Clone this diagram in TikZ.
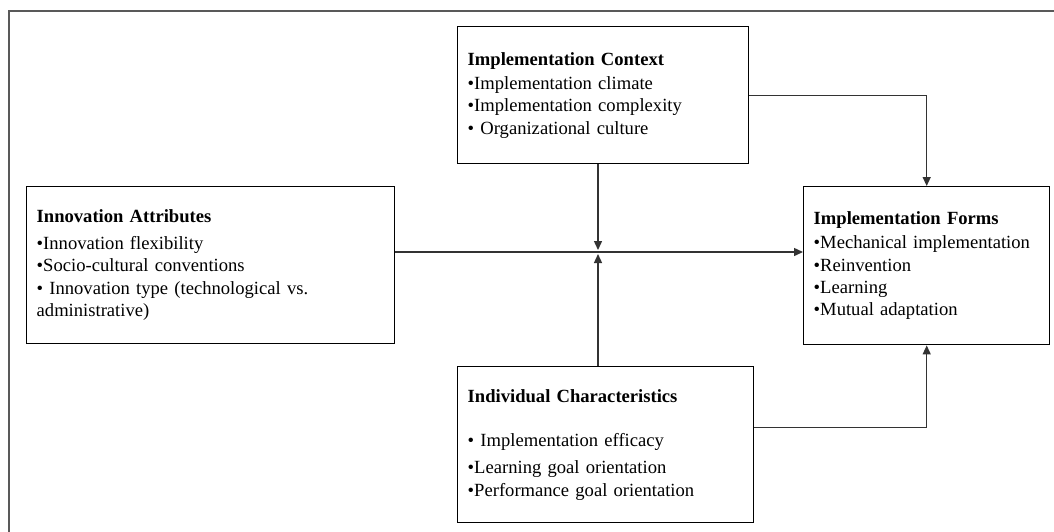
\documentclass[tikz,border=0pt]{standalone}
\usepackage{fontspec}
\setmainfont{Liberation Serif}
\usetikzlibrary{arrows.meta}
\tikzset{
  box/.style={draw, line width=0.7pt, rectangle, anchor=north west, align=left,
    inner xsep=5pt, inner ysep=0pt, font=\fontsize{9.3}{11.2}\selectfont},
  link/.style={line width=0.7pt, draw=black!80, -{Triangle[length=4.5pt,width=4pt]}},
}
\begin{document}
\begin{tikzpicture}[x=0.5pt,y=-0.5pt]
  \useasboundingbox (0,0) rectangle (1054,531);
  \draw[line width=1.1pt, black!65] (1060,11) -- (9,11) -- (9,540);
  % boxes
  \node[box, minimum height=68.5pt, text width=135.5pt] (ctx) at (457,26)
    {\textbf{Implementation Context}\\[1pt]
     •Implementation climate\\
     •Implementation complexity\\
     • Organizational culture};
  \node[box, minimum height=78.5pt, text width=174pt] (ia) at (26,186)
    {\textbf{Innovation Attributes}\\[2pt]
     •Innovation flexibility\\
     •Socio-cultural conventions\\
     • Innovation type (technological vs.\\
     administrative)};
  \node[box, minimum height=79pt, text width=113pt] (forms) at (803,186)
    {\textbf{Implementation Forms}\\[1pt]
     •Mechanical implementation\\
     •Reinvention\\
     •Learning\\
     •Mutual adaptation};
  \node[box, minimum height=78pt, text width=138pt] (ind) at (457,366)
    {\textbf{Individual Characteristics}\\[11pt]
     • Implementation efficacy\\[2.5pt]
     •Learning goal orientation\\
     •Performance goal orientation};
  \coordinate (hub) at (598,252);
  % connectors
  \begin{scope}[link]
    \draw (ia.east |- hub) -- (forms.west |- hub);
    \draw (ctx.south -| hub) -- ([yshift=1pt]hub);
    \draw (ind.north -| hub) -- ([yshift=-1pt]hub);
    \draw (ctx.east) -| (forms.north);
    \draw ([yshift=8.5pt]ind.east) -| (forms.south);
  \end{scope}
\end{tikzpicture}
\end{document}
